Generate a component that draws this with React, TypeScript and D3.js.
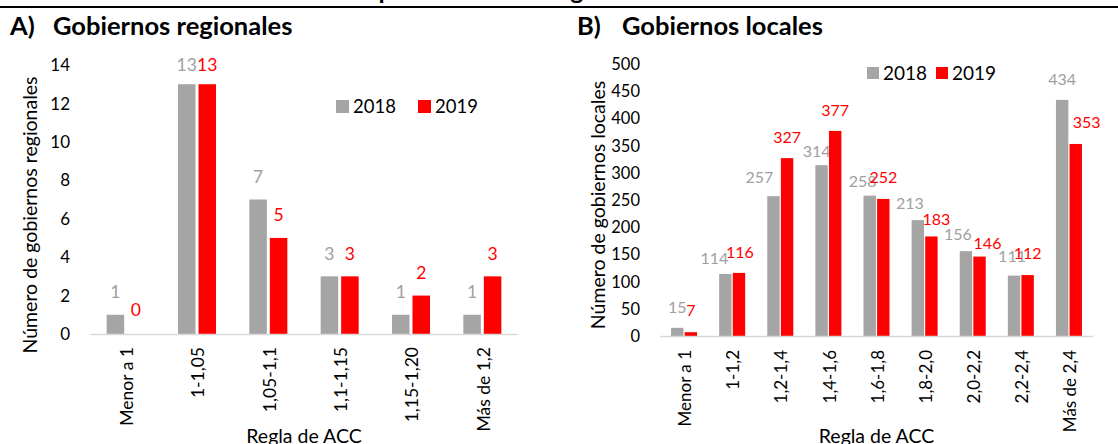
import React, { useEffect, useRef } from 'react';
import * as d3 from 'd3';

const years = ['2018', '2019'];

const regionalCategories = ['Menor a 1', '1-1,05', '1,05-1,1', '1,1-1,15', '1,15-1,20', 'Más de 1,2'];
const regional2018 = [1, 13, 7, 3, 1, 1];
const regional2019 = [0, 13, 5, 3, 2, 3];
const regionalTicks = [0, 2, 4, 6, 8, 10, 12, 14];

const localCategories = ['Menor a 1', '1-1,2', '1,2-1,4', '1,4-1,6', '1,6-1,8', '1,8-2,0', '2,0-2,2', '2,2-2,4', 'Más de 2,4'];
const local2018 = [15, 114, 257, 314, 258, 213, 156, 111, 434];
const local2019 = [7, 116, 327, 377, 252, 183, 146, 112, 353];
const localTicks = [0, 50, 100, 150, 200, 250, 300, 350, 400, 450, 500];

// label placement as in the original (some labels were dragged by hand)
const regionalRaise = [[23, 20, 23, 23, 23, 23], [24, 20, 23, 23, 23, 23]];
const regionalShift = [[0, 0, 0, 0, 0, 0], [0, 0, 0, 0, 0, 0]];
const localRaise = [[21, 16, 19, 14, 14, 17, 17, 19, 21], [22, 21, 21, 21, 22, 17, 13, 22, 22]];
const localShift = [[0, -11, -14, -5, -7, -8, -8, -2, 0], [0, 1, 0, 0, 0, 5, 8, 0, 11]];

const GRAY = '#a5a5a5';
const RED = '#ff0000';
const FONT = 'Lato, "Open Sans", sans-serif';

const App = () => {
  const chartRef = useRef(null);

  useEffect(() => {
    drawChart();
  }, []);

  const drawPanel = (svg, cfg) => {
    const g = svg.append('g');

    const x = d3.scaleBand()
      .domain(cfg.categories)
      .range([cfg.left, cfg.right])
      .padding(0);

    const y = d3.scaleLinear()
      .domain([0, cfg.max])
      .range([cfg.base, cfg.top]);

    const inner = d3.scaleBand()
      .domain(years)
      .range([-cfg.group / 2, cfg.group / 2])
      .paddingInner(cfg.innerPad);

    // y tick labels
    g.selectAll('.ytick')
      .data(cfg.ticks)
      .enter()
      .append('text')
      .attr('x', cfg.left - 20)
      .attr('y', d => y(d))
      .attr('dy', '0.36em')
      .attr('text-anchor', 'end')
      .attr('font-size', cfg.tickSize)
      .attr('fill', '#000')
      .text(d => d);

    const series = [cfg.s2018, cfg.s2019];
    const colors = [GRAY, RED];

    series.forEach((vals, si) => {
      const rows = cfg.categories.map((c, i) => ({ c, i, v: vals[i] }));
      g.selectAll(`.bar${si}`)
        .data(rows)
        .enter()
        .append('rect')
        .attr('x', d => x(d.c) + x.bandwidth() / 2 + inner(years[si]))
        .attr('y', d => y(d.v))
        .attr('width', inner.bandwidth())
        .attr('height', d => cfg.base - y(d.v))
        .attr('fill', colors[si]);

      g.selectAll(`.lab${si}`)
        .data(rows)
        .enter()
        .append('text')
        .attr('x', d => x(d.c) + x.bandwidth() / 2 + inner(years[si]) + inner.bandwidth() / 2 + cfg.shift[si][d.i])
        .attr('y', d => y(d.v) - cfg.raise[si][d.i])
        .attr('dy', '0.36em')
        .attr('text-anchor', 'middle')
        .attr('font-size', cfg.labelSize)
        .attr('fill', si === 0 ? '#a0a0a0' : RED)
        .text(d => d.v);
    });

    // baseline
    g.append('line')
      .attr('x1', cfg.left)
      .attr('x2', cfg.right)
      .attr('y1', cfg.base + 0.5)
      .attr('y2', cfg.base + 0.5)
      .attr('stroke', '#d9d9d9')
      .attr('stroke-width', 1.5);

    // category labels, rotated
    g.selectAll('.xtick')
      .data(cfg.categories)
      .enter()
      .append('text')
      .attr('transform', d => `translate(${x(d) + x.bandwidth() / 2 + 1},${cfg.base + cfg.tickGap}) rotate(-90)`)
      .attr('dy', '0.36em')
      .attr('text-anchor', 'end')
      .attr('font-size', cfg.catSize)
      .attr('fill', '#000')
      .text(d => d);

    g.append('text')
      .attr('x', (cfg.left + cfg.right) / 2)
      .attr('y', 443)
      .attr('text-anchor', 'middle')
      .attr('font-size', 19.5)
      .text('Regla de ACC');

    g.append('text')
      .attr('transform', `translate(${cfg.yTitleX},${cfg.yTitleY}) rotate(-90)`)
      .attr('dy', '0.36em')
      .attr('text-anchor', 'middle')
      .attr('font-size', cfg.yTitleSize)
      .text(cfg.yTitle);

    // panel title
    g.append('text')
      .attr('x', cfg.letterX)
      .attr('y', 35)
      .attr('font-size', 25.5)
      .attr('font-weight', 'bold')
      .text(cfg.letter);
    g.append('text')
      .attr('x', cfg.titleX)
      .attr('y', 35)
      .attr('font-size', 25.5)
      .attr('font-weight', 'bold')
      .text(cfg.title);

    // legend
    cfg.legend.forEach((l, li) => {
      g.append('rect')
        .attr('x', l.x)
        .attr('y', cfg.legendY)
        .attr('width', cfg.legendBox)
        .attr('height', cfg.legendBox)
        .attr('fill', colors[li]);
      g.append('text')
        .attr('x', l.x + cfg.legendBox + 4)
        .attr('y', cfg.legendY + cfg.legendBox / 2)
        .attr('dy', '0.36em')
        .attr('font-size', cfg.legendSize)
        .text(years[li]);
    });
  };

  const drawChart = () => {
    const svg = d3.select(chartRef.current)
      .attr('width', 1118)
      .attr('height', 444)
      .style('font-family', FONT);

    svg.append('rect').attr('width', 1118).attr('height', 444).attr('fill', '#fff');

    // cut-off heading of the original page
    svg.append('text')
      .attr('x', 327)
      .attr('y', -1)
      .attr('font-size', 25)
      .attr('font-weight', 'bold')
      .text('Cumplimiento de la regla de ACC');

    svg.append('rect')
      .attr('x', 0)
      .attr('y', 6)
      .attr('width', 1118)
      .attr('height', 2)
      .attr('fill', '#000');

    drawPanel(svg, {
      categories: regionalCategories,
      s2018: regional2018,
      s2019: regional2019,
      ticks: regionalTicks,
      max: 14,
      left: 90,
      right: 518,
      base: 334,
      top: 65,
      group: 38,
      innerPad: 0.146,
      tickSize: 17,
      catSize: 17.5,
      labelSize: 17.5,
      tickGap: 13,
      raise: regionalRaise,
      shift: regionalShift,
      yTitle: 'Número de gobiernos regionales',
      yTitleSize: 19.5,
      yTitleX: 30,
      yTitleY: 215,
      letter: 'A)',
      letterX: 10,
      title: 'Gobiernos regionales',
      titleX: 53,
      legendY: 100,
      legendBox: 13,
      legendSize: 18.5,
      legend: [{ x: 336 }, { x: 418 }],
    });

    drawPanel(svg, {
      categories: localCategories,
      s2018: local2018,
      s2019: local2019,
      ticks: localTicks,
      max: 500,
      left: 660,
      right: 1093,
      base: 336,
      top: 64,
      group: 26,
      innerPad: 0.088,
      tickSize: 16.5,
      catSize: 17,
      labelSize: 16,
      tickGap: 14,
      raise: localRaise,
      shift: localShift,
      yTitle: 'Número de gobiernos locales',
      yTitleSize: 19.5,
      yTitleX: 598,
      yTitleY: 205,
      letter: 'B)',
      letterX: 577,
      title: 'Gobiernos locales',
      titleX: 622,
      legendY: 67,
      legendBox: 12,
      legendSize: 19,
      legend: [{ x: 867 }, { x: 936 }],
    });
  };

  return (
    <svg ref={chartRef} style={{ position: 'absolute', left: 0, top: 0, display: 'block' }}></svg>
  );
};

export default App;
